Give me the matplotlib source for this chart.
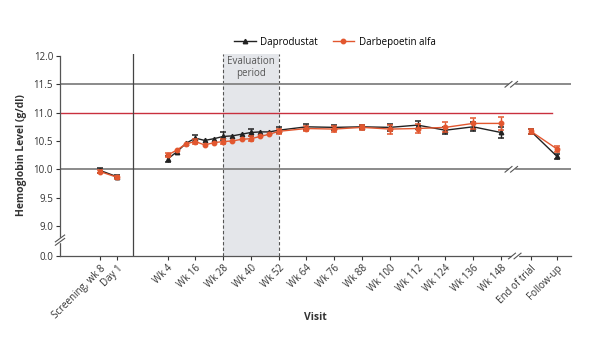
import matplotlib
matplotlib.use("Agg")
import matplotlib.pyplot as plt
import numpy as np
from matplotlib import font_manager
from matplotlib.lines import Line2D

# font: narrow sans if available
font_candidates = ["Liberation Sans Narrow", "Open Sans", "DejaVu Sans"]
selected_font = "DejaVu Sans"
for candidate in font_candidates:
    try:
        font_manager.findfont(candidate, fallback_to_default=False)
        selected_font = candidate
        break
    except ValueError:
        continue
plt.rcParams["font.family"] = [selected_font, "DejaVu Sans"]

# -----------------------------------------------------------------------------
# Data
# -----------------------------------------------------------------------------
pre_labels = ["Screening, wk 8", "Day 1"]
dap_pre = [9.98, 9.87]
darb_pre = [9.96, 9.86]
dap_pre_err = [0.04, 0.03]
darb_pre_err = [0.03, 0.03]

main_weeks = [4, 8, 12, 16, 20, 24, 28, 32, 36, 40, 44, 48, 52,
              64, 76, 88, 100, 112, 124, 136, 148]
dap_main = [10.18, 10.31, 10.46, 10.55, 10.51, 10.54, 10.58, 10.59, 10.62,
            10.65, 10.66, 10.66, 10.69,
            10.75, 10.74, 10.75, 10.74, 10.78, 10.69, 10.75, 10.65]
darb_main = [10.25, 10.34, 10.45, 10.49, 10.43, 10.47, 10.49, 10.50, 10.53,
             10.54, 10.58, 10.62, 10.67,
             10.72, 10.71, 10.74, 10.71, 10.72, 10.74, 10.81, 10.81]
nan = np.nan
dap_main_err = [0.05, nan, nan, 0.06, nan, nan, 0.07, nan, nan, 0.06, nan, nan,
                0.05, 0.05, 0.05, 0.04, 0.06, 0.07, 0.06, 0.08, 0.10]
darb_main_err = [0.04, nan, nan, 0.04, nan, nan, 0.04, nan, nan, 0.04, nan, nan,
                 0.04, 0.04, 0.05, 0.04, 0.08, 0.08, 0.09, 0.10, 0.11]
main_tick_weeks = [4, 16, 28, 40, 52, 64, 76, 88, 100, 112, 124, 136, 148]

post_labels = ["End of trial", "Follow-up"]
dap_post = [10.67, 10.23]
darb_post = [10.67, 10.36]
dap_post_err = [0.04, 0.04]
darb_post_err = [0.04, 0.05]

eval_period = (28, 52)
target_line = 11.0
range_lines = [10.0, 11.5]

# -----------------------------------------------------------------------------
# Layout (x in week units of the main section)
# -----------------------------------------------------------------------------
pre_pos = [-25.2, -17.9]
post_pos = [161.0, 172.2]
divider_x = -11.1
break_x = 152.5
XMIN, XMAX = -42.5, 178.3
Y_ZERO = 8.47          # where "0.0" is drawn after the axis break
YMAX = 12.035

BLACK = "#222222"
ORANGE = "#e2572f"
RED = "#c9303e"
GRAY = "#8a8a8a"
SHADE = "#e4e6ea"
TEXT = "#333333"

fig = plt.figure(figsize=(5.9, 3.42), dpi=100, facecolor="white")
ax = fig.add_axes([60 / 590, 1 - 256 / 342, 511 / 590, 202 / 342])
ax.set_xlim(XMIN, XMAX)
ax.set_ylim(Y_ZERO, YMAX)

# evaluation period
ax.axvspan(*eval_period, color=SHADE, zorder=0, lw=0)
for xv in eval_period:
    ax.axvline(xv, color="#555555", lw=0.8, ls=(0, (3, 2)), zorder=1)
ax.text(sum(eval_period) / 2, 11.80, "Evaluation\nperiod", ha="center",
        va="center", fontsize=7, color="#555555", linespacing=1.1, zorder=2)

# reference lines
for yv in range_lines:
    ax.plot([XMIN, XMAX], [yv, yv], color=GRAY, lw=1.4, zorder=1)
ax.plot([XMIN, 169.9], [target_line, target_line], color=RED, lw=1.0, zorder=1)
ax.axvline(divider_x, color="#444444", lw=0.9, zorder=1)


def draw_series(x, y, err, color, marker):
    ax.plot(x, y, color=color, lw=1.0, marker=marker, ms=3.2, zorder=4)
    ax.errorbar(x, y, yerr=err, fmt="none", ecolor=color, elinewidth=1.0,
                capsize=2.4, capthick=1.1, zorder=4)


for xs, ys, es in [(pre_pos, dap_pre, dap_pre_err),
                   (main_weeks, dap_main, dap_main_err),
                   (post_pos, dap_post, dap_post_err)]:
    draw_series(xs, ys, es, BLACK, "^")
for xs, ys, es in [(pre_pos, darb_pre, darb_pre_err),
                   (main_weeks, darb_main, darb_main_err),
                   (post_pos, darb_post, darb_post_err)]:
    draw_series(xs, ys, es, ORANGE, "o")


# break marks on gray lines and x-axis
def break_mark(xc, yc):
    ax.add_patch(plt.Rectangle((xc - 1.2, yc - 0.04), 2.4, 0.08,
                               color="white", zorder=3, clip_on=False))
    for dx in (-1.2, 1.2):
        ax.plot([xc + dx - 1.5, xc + dx + 1.5], [yc - 0.05, yc + 0.05],
                color="#555555", lw=0.8, zorder=3, clip_on=False)


for yv in range_lines:
    break_mark(break_x, yv)
break_mark(break_x + 1.5, Y_ZERO)

# y-axis break
ax.add_patch(plt.Rectangle((XMIN - 1.5, 8.72), 3.0, 0.06, color="white",
                           zorder=5, clip_on=False))
for dy in (-0.03, 0.03):
    ax.plot([XMIN - 2.0, XMIN + 2.0], [8.75 + dy - 0.06, 8.75 + dy + 0.06],
            color="#555555", lw=0.8, zorder=6, clip_on=False)

# axes styling
for s in ("top", "right"):
    ax.spines[s].set_visible(False)
for s in ("left", "bottom"):
    ax.spines[s].set_color("#555555")
    ax.spines[s].set_linewidth(0.9)
ax.spines["left"].set_bounds(Y_ZERO, 12.0)

ax.set_yticks([Y_ZERO, 9.0, 9.5, 10.0, 10.5, 11.0, 11.5, 12.0])
ax.set_yticklabels(["0.0", "9.0", "9.5", "10.0", "10.5", "11.0", "11.5", "12.0"])
xticks = pre_pos + main_tick_weeks + post_pos
xlabels = pre_labels + [f"Wk {w}" for w in main_tick_weeks] + post_labels
ax.set_xticks(xticks)
ax.set_xticklabels(xlabels, rotation=45, ha="right", rotation_mode="anchor")
ax.tick_params(axis="both", labelsize=7, colors=TEXT, length=3, width=0.8,
               pad=2)

ax.set_ylabel("Hemoglobin Level (g/dl)", fontsize=7.5, fontweight="bold",
              color=TEXT, labelpad=5)
ax.set_xlabel("Visit", fontsize=7.5, fontweight="bold", color=TEXT, labelpad=-6)

handles = [
    Line2D([0], [0], color=BLACK, lw=1.0, marker="^", ms=3.2, label="Daprodustat"),
    Line2D([0], [0], color=ORANGE, lw=1.0, marker="o", ms=3.2,
           label="Darbepoetin alfa"),
]
fig.legend(handles=handles, loc="center", bbox_to_anchor=(335 / 590, 1 - 42 / 342),
           ncol=2, frameon=False, fontsize=7, handlelength=2.2,
           columnspacing=1.5, handletextpad=0.5)

fig.savefig("out.png", dpi=100, facecolor="white")
